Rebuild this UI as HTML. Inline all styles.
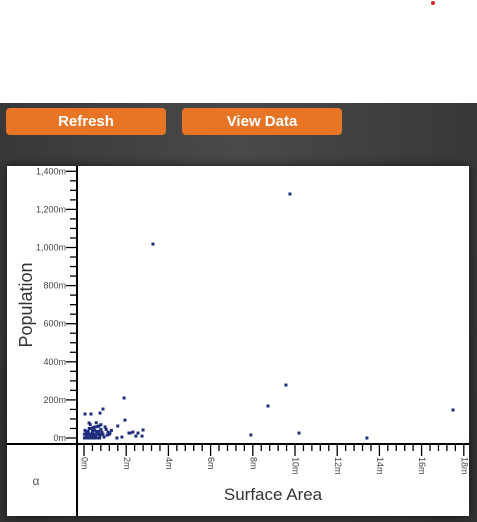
<!DOCTYPE html>
<html><head><meta charset="utf-8">
<style>
body{margin:0;width:477px;height:522px;overflow:hidden;background:#fff;font-family:"Liberation Sans",sans-serif;}
#dark{position:absolute;left:0;top:103px;width:477px;height:419px;background:radial-gradient(ellipse at 50% 10%,#4a4a4a,#333 90%);}
.btn{position:absolute;top:108px;height:27px;width:160px;background:#e87425;color:#fff;font-weight:bold;font-size:15px;line-height:27px;text-align:center;border-radius:4px;}
#panel{position:absolute;left:7px;top:166px;width:462px;height:350px;background:#fff;box-shadow:0 0 10px rgba(0,0,0,.6);}
</style></head><body>
<div style="position:absolute;left:431px;top:1px;width:4px;height:4px;border-radius:50%;background:#d22;"></div>
<div id="dark"></div>
<div class="btn" style="left:6px">Refresh</div>
<div class="btn" style="left:182px">View Data</div>
<div id="panel"></div>
<svg id="chart" width="477" height="522" style="position:absolute;left:0;top:0"></svg>
<script>
const xs=[3.27,9.76,9.57,8.72,7.91,10.19,13.41,17.49,1.9,1.94,0.76,0.05,0.33,0.9,1.6,0.24,0.52,0.71,1.0,1.14,1.23,2.18,2.32,2.56,2.8,2.13,1.56,1.8,2.46,2.75,0.1,0.2,0.3,0.4,0.5,0.6,0.7,0.8,0.9,1.1,0.15,0.35,0.55,0.75,0.95,1.2,0.05,0.25,0.45,0.65,0.85,1.05,0.12,0.42,0.62,0.3,0.58,0.1,0.8,0.5,0.02,0.08,0.14,0.2,0.26,0.32,0.38,0.44,0.5,0.56,0.62,0.68,0.74,0.02,0.1,0.18,0.26,0.34,0.42,0.5,0.58,0.66,0.74,0.82,0.2,0.4,0.6,0.35,1.3];
const ys=[1018,1281,278,168,16,26,0,147,210,94,131,126,126,152,63,79,58,63,58,31,26,26,31,26,42,26,0,5,10,10,10,15,20,30,40,25,35,45,20,15,5,5,5,10,5,20,40,50,55,60,30,45,0,15,20,70,80,30,70,10,0,0,0,0,0,0,0,0,0,0,0,0,0,20,20,20,20,20,20,20,20,20,20,20,35,35,35,50,40];
const xTicks=[0,2,4,6,8,10,12,14,16,18];
const yTicks=[0,200,400,600,800,1000,1200,1400];
const NS="http://www.w3.org/2000/svg",svg=document.getElementById('chart');
const X=v=>84+v*21.1, Y=v=>438-v*0.1905;
function mk(t,a){const e=document.createElementNS(NS,t);for(const k in a)e.setAttribute(k,a[k]);svg.appendChild(e);return e;}
let e;
e=mk('line',{x1:77,y1:166,x2:77,y2:516,stroke:'#000','stroke-width':2});


e=mk('line',{x1:7,y1:444,x2:469,y2:444,stroke:'#000','stroke-width':2});


for(let v=0;v<=1400;v+=50){const y=Y(v);const major=v%200==0;mk('line',{x1:major?66:70,y1:y,x2:77,y2:y,stroke:'#000','stroke-width':1.3});}
yTicks.forEach(v=>{e=mk('text',{x:66,y:Y(v)+3,'text-anchor':'end','font-size':9,fill:'#444'});e.textContent=v.toLocaleString('en-US')+'m';

});
for(let i=0;i<=45;i++){const v=i*0.4;const x=X(v);const major=i%5==0;mk('line',{x1:x,y1:444,x2:x,y2:major?456:451,stroke:'#000','stroke-width':1.3});}
xTicks.forEach(v=>{const x=X(v);e=mk('text',{x:x,y:457,transform:`rotate(90 ${x} 457)`,'font-size':9,fill:'#444','dominant-baseline':'middle'});e.textContent=v+'m';

});
xs.forEach((v,i)=>{e=mk('rect',{x:X(v)-1.5,y:Y(ys[i])-1.5,width:3,height:3,fill:'#1f2d7c'});

});
e=mk('text',{x:32,y:305,transform:'rotate(-90 32 305)','text-anchor':'middle','font-size':18,fill:'#333'});e.textContent='Population';


e=mk('text',{x:273,y:500,'text-anchor':'middle','font-size':17,fill:'#333'});e.textContent='Surface Area';


e=mk('text',{x:36,y:485,'text-anchor':'middle','font-size':12,fill:'#555'});e.textContent='α';


</script>
</body></html>
